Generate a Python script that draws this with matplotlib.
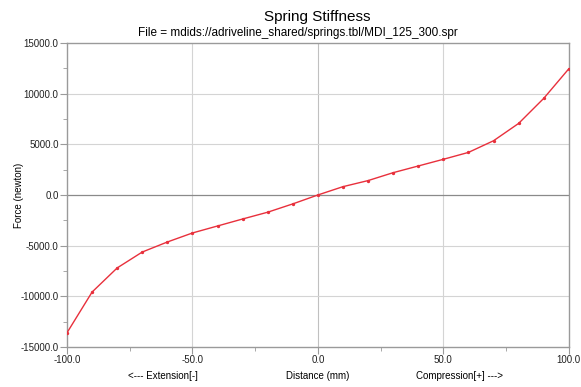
import numpy as np
import matplotlib.pyplot as plt
from matplotlib.ticker import MultipleLocator, FormatStrFormatter

plt.rcParams['font.family'] = ['Liberation Sans', 'DejaVu Sans']

# Spring force vs. displacement
distance = [-100, -90, -80, -70, -60, -50, -40, -30, -20, -10,
            0, 10, 20, 30, 40, 50, 60, 70, 80, 90, 100]
force = [-13600, -9580, -7200, -5630, -4640, -3750, -3060, -2370, -1700, -880,
         0, 820, 1420, 2200, 2860, 3520, 4200, 5350, 7060, 9530, 12450]

fig = plt.figure(figsize=(5.81, 3.87), dpi=100)
ax = fig.add_axes([0.1153, 0.1034, 0.8637, 0.7856])

grid_col = '#d4d4d4'
axis_col = '#9a9a9a'

for v in [-50, 50]:
    ax.axvline(v, color=grid_col, lw=0.8, zorder=1)
ax.axvline(0, color='#c0c0c0', lw=0.8, zorder=1)
for v in [-10000, -5000, 5000, 10000]:
    ax.axhline(v, color=grid_col, lw=0.8, zorder=1)
ax.axhline(0, color='#8a8a8a', lw=0.9, zorder=1)

ax.plot(distance, force, color='#e8303c', lw=1.0, marker='o', ms=1.4,
        mec='#e8303c', mfc='#e8303c', zorder=3)

ax.set_xlim(-100, 100)
ax.set_ylim(-15000, 15000)
ax.xaxis.set_major_locator(MultipleLocator(50))
ax.xaxis.set_minor_locator(MultipleLocator(25))
ax.yaxis.set_major_locator(MultipleLocator(5000))
ax.yaxis.set_minor_locator(MultipleLocator(2500))
ax.xaxis.set_major_formatter(FormatStrFormatter('%.1f'))
ax.yaxis.set_major_formatter(FormatStrFormatter('%.1f'))

for s in ax.spines.values():
    s.set_color(axis_col)
    s.set_linewidth(1.0)
ax.tick_params(which='both', direction='out', color=axis_col, labelsize=7,
               labelcolor='#222222', top=False, right=False)
ax.tick_params(which='major', length=5, pad=1)
ax.tick_params(which='minor', length=3)

fig.text(317 / 581, 0.955, 'Spring Stiffness', ha='center', va='center', fontsize=11)
fig.text(298 / 581, 0.915, 'File = mdids://adriveline_shared/springs.tbl/MDI_125_300.spr',
         ha='center', va='center', fontsize=8.5)

ax.set_ylabel('Force (newton)', fontsize=7)
ax.yaxis.set_label_coords(-0.086, 0.5)
fig.text(163 / 581, 1 - 376 / 387, '<--- Extension[-]', ha='center', va='center', fontsize=7)
fig.text(318 / 581, 1 - 376 / 387, 'Distance (mm)', ha='center', va='center', fontsize=7)
fig.text(460 / 581, 1 - 376 / 387, 'Compression[+] --->', ha='center', va='center', fontsize=7)

fig.savefig('out.png', dpi=100)
